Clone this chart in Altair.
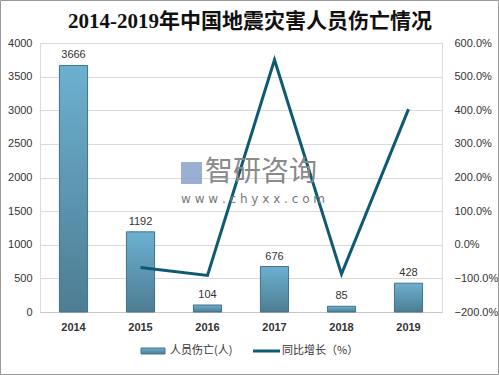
import altair as alt
import pandas as pd

years = ["2014", "2015", "2016", "2017", "2018", "2019"]
casualties = [3666, 1192, 104, 676, 85, 428]
growth_years = ["2015", "2016", "2017", "2018", "2019"]
growth = [-0.675, -0.913, 5.50, -0.874, 4.035]

bar_df = pd.DataFrame({"year": years, "value": casualties})
line_df = pd.DataFrame({"year": growth_years, "growth": growth})
one = pd.DataFrame({"a": [0]})

W, H = 402, 269
x_enc = alt.X("year:N", sort=years, scale=alt.Scale(domain=years, paddingInner=0.58, paddingOuter=0.29),
              axis=alt.Axis(title=None, labelAngle=0, labelFontWeight="bold", labelFontSize=11,
                            labelColor="#333", ticks=False, domainColor="#c8c8c8", labelPadding=9))

grad = alt.Gradient(gradient="linear", x1=0, x2=0, y1=0, y2=1,
                    stops=[alt.GradientStop(color="#6cb0d0", offset=0),
                           alt.GradientStop(color="#4d7d92", offset=1)])

bars = alt.Chart(bar_df).mark_bar(fill=grad, stroke="#44708a", strokeWidth=1).encode(
    x=x_enc,
    y=alt.Y("value:Q", scale=alt.Scale(domain=[0, 4000]),
            axis=alt.Axis(title=None, values=list(range(0, 4001, 500)), format="d", labelOverlap=False,
                          tickCount=9, labelFontSize=11, labelColor="#333",
                          ticks=False, domain=False, gridColor="#d9d9d9", labelPadding=8)),
)
labels = alt.Chart(bar_df).mark_text(dy=-10, fontSize=11, color="#333", font="Liberation Sans").encode(
    x=alt.X("year:N", sort=years), y=alt.Y("value:Q"), text="value:Q")

left = alt.layer(bars, labels)

line = alt.Chart(line_df).mark_line(color="#0f5a73", strokeWidth=3).encode(
    x=alt.X("year:N", sort=years),
    y=alt.Y("growth:Q", scale=alt.Scale(domain=[-2, 6]),
            axis=alt.Axis(title=None, orient="right", format=".1%", values=[-2, -1, 0, 1, 2, 3, 4, 5, 6],
                          labelOverlap=False, labelFontSize=11, labelColor="#333", ticks=False,
                          domain=False, grid=False, labelPadding=12)),
)

title = alt.Chart(one).mark_text(text="2014-2019年中国地震灾害人员伤亡情况", fontSize=21, fontWeight="bold",
                                 font="Liberation Serif, Noto Sans CJK SC", color="#111", align="center").encode(
    x=alt.value(W / 2 + 9), y=alt.value(-21))

border = alt.Chart(one).mark_rect(fill=None, stroke="#9a9a9a", strokeWidth=1).encode(
    x=alt.value(-39.5), x2=alt.value(458.5), y=alt.value(-42.5), y2=alt.value(331.5))

wm1 = alt.Chart(one).mark_text(text="智研咨询", fontSize=28, color="#8a8a8a", align="left",
                               font="Noto Sans CJK SC").encode(x=alt.value(165), y=alt.value(130))
wm_box = alt.Chart(one).mark_rect(fill="#7f9cc8", opacity=0.8).encode(
    x=alt.value(141), x2=alt.value(162), y=alt.value(119), y2=alt.value(141))
wm2 = alt.Chart(one).mark_text(text="w w w . c h y x x . c o m", fontSize=12, color="#777", align="left",
                               font="DejaVu Sans").encode(x=alt.value(141), y=alt.value(156))

leg_bar = alt.Chart(one).mark_rect(fill=grad, stroke="#44708a").encode(
    x=alt.value(101), x2=alt.value(125), y=alt.value(36 + H), y2=alt.value(42 + H))
leg_t1 = alt.Chart(one).mark_text(text="人员伤亡(人)", fontSize=11, color="#333", align="left",
                                  font="Noto Sans CJK SC").encode(x=alt.value(130), y=alt.value(39 + H))
leg_line = alt.Chart(one).mark_rule(color="#0f5a73", strokeWidth=3).encode(
    x=alt.value(213), x2=alt.value(240), y=alt.value(39 + H))
leg_t2 = alt.Chart(one).mark_text(text="同比增长（%）", fontSize=11, color="#333", align="left",
                                  font="Noto Sans CJK SC").encode(x=alt.value(242), y=alt.value(39 + H))

chart = alt.layer(left, line).resolve_scale(y="independent")
chart = alt.layer(chart, wm_box, wm1, wm2, title, border, leg_bar, leg_t1, leg_line, leg_t2).properties(
    width=W, height=H,
    autosize=alt.AutoSizeParams(type="none"),
    padding={"left": 40, "top": 43, "right": 57, "bottom": 63},
).configure_view(stroke=None).configure(background="white")

chart.save("out.html", embed_options={"renderer": "svg", "actions": False})
